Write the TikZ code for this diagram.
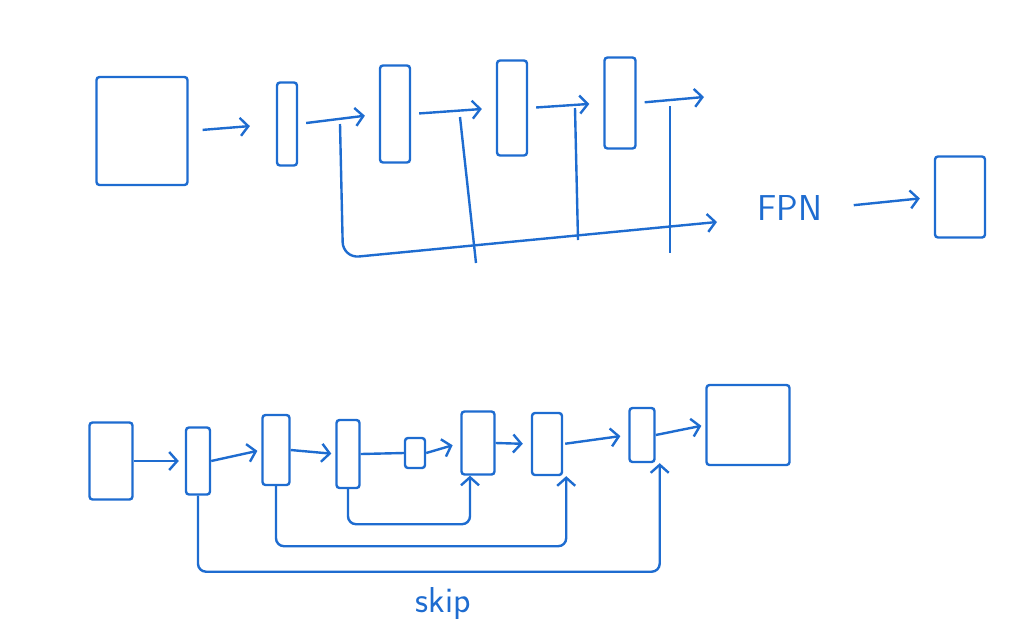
\documentclass[tikz,border=0pt]{standalone}
\usepackage{tikz}
\usetikzlibrary{positioning, calc, arrows.meta}
\definecolor{pen}{RGB}{30,108,208}

\tikzset{
  fmap/.style={draw=pen, line width=2.4pt, rounded corners=3pt, inner sep=0pt},
  link/.style={draw=pen, line width=2.4pt, -{Straight Barb[length=8pt,width=18pt]},
               shorten <=8pt, shorten >=14pt},
  bus/.style={draw=pen, line width=2.4pt, rounded corners=16pt},
  label/.style={text=pen, font=\sffamily\fontsize{36}{40}\selectfont}
}

\begin{document}
\begin{tikzpicture}[x=1pt, y=-1pt]
    \useasboundingbox (0,0) rectangle (1017,641);

    % --- Top row: backbone stages ---
    \node[fmap, minimum width=91pt, minimum height=108pt] (t0) at (142,131) {};
    \node[fmap, minimum width=20pt, minimum height=83pt] (t1) at (287,124) {};
    \node[fmap, minimum width=30pt, minimum height=97pt] (t2) at (395,114) {};
    \node[fmap, minimum width=30pt, minimum height=95pt] (t3) at (512,108) {};
    \node[fmap, minimum width=31pt, minimum height=91pt] (t4) at (620,103) {};
    \coordinate (t4out) at (704,97);

    \draw[link, shorten <=14pt, shorten >=26pt] (t0.east) -- (t1.west);
    \draw[link] (t1.east) -- (t2.west);
    \draw[link] (t2.east) -- (t3.west);
    \draw[link] (t3.east) -- (t4.west);
    \draw[link, shorten >=0pt] (t4.east) -- (t4out);

    % --- Top row: taps collected into FPN ---
    \node[label] (fpn) at (790,208) {FPN};
    \node[fmap, minimum width=50pt, minimum height=81pt] (t5) at (960,197) {};
    \coordinate (c1) at (340,124);
    \coordinate (c2) at (460,117);
    \coordinate (c3) at (575,108);
    \coordinate (c4) at (670,106);
    \coordinate (fpnin) at (717,222);

    \draw[bus, -{Straight Barb[length=8pt,width=18pt]}] (c1) -- (343,258) -- (fpnin);
    \draw[bus] (c2) -- ++(16,146);
    \draw[bus] (c3) -- ++(3,132);
    \draw[bus] (c4) -- ++(0,147);
    \draw[link, shorten <=28pt] (fpn.east) -- (t5.west);

    % --- Bottom row: encoder / decoder ---
    \node[fmap, minimum width=43pt, minimum height=77pt] (b0) at (111,461) {};
    \node[fmap, minimum width=24pt, minimum height=67pt] (b1) at (198,461) {};
    \node[fmap, minimum width=27pt, minimum height=70pt] (b2) at (276,450) {};
    \node[fmap, minimum width=23pt, minimum height=68pt] (b3) at (348,454) {};
    \node[fmap, minimum width=20pt, minimum height=30pt] (b4) at (415,453) {};
    \node[fmap, minimum width=33pt, minimum height=63pt] (b5) at (478,443) {};
    \node[fmap, minimum width=30pt, minimum height=62pt] (b6) at (547,444) {};
    \node[fmap, minimum width=25pt, minimum height=54pt] (b7) at (642,435) {};
    \node[fmap, minimum width=83pt, minimum height=80pt] (b8) at (748,425) {};

    \draw[link, shorten <=0pt, shorten >=6pt] (b0.east) -- (b1.west);
    \draw[link, shorten <=0pt, shorten >=4pt] (b1.east) -- (b2.west);
    \draw[link, shorten <=0pt, shorten >=4pt] (b2.east) -- (b3.west);
    \draw[pen, line width=2.4pt] (b3.east) -- (b4.west); % plain line, no head
    \draw[link, shorten <=0pt, shorten >=8pt] (b4.east) -- (b5.west);
    \draw[link, shorten <=0pt, shorten >=8pt] (b5.east) -- (b6.west);
    \draw[link, shorten <=2pt, shorten >=8pt] (b6.east) -- (b7.west);
    \draw[link, shorten <=0pt, shorten >=4pt] (b7.east) -- (b8.west);

    % --- Bottom row: skip connections ---
    \draw[bus, rounded corners=8pt, -{Straight Barb[length=8pt,width=18pt]}]
        (b3.south) -- ++(0,35) -| ([xshift=-8pt]b5.south);
    \draw[bus, rounded corners=8pt, -{Straight Barb[length=8pt,width=18pt]}]
        (b2.south) -- ++(0,60) -| ([xshift=3pt]b6.south east);
    \draw[bus, rounded corners=8pt, -{Straight Barb[length=8pt,width=18pt]}]
        (b1.south) -- ++(0,76) -| ([xshift=4pt]b7.south east);
    \node[label] (skip) at (443,604) {skip};

\end{tikzpicture}
\end{document}
